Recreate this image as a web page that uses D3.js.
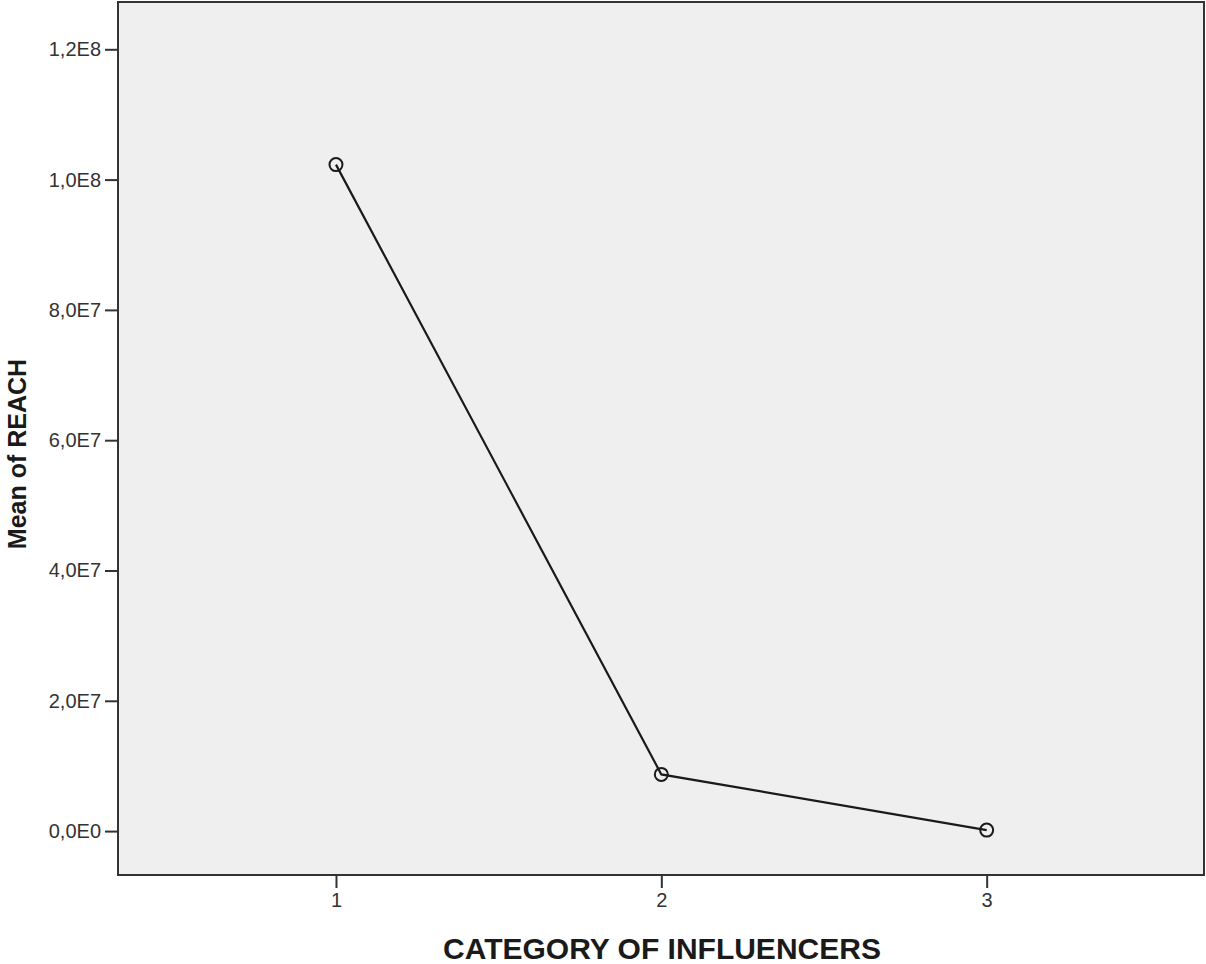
<!DOCTYPE html>
<html><head><meta charset="utf-8">
<script src="https://cdn.jsdelivr.net/npm/d3@7/dist/d3.min.js"></script>
<style>body{margin:0;background:#fff;} svg{display:block;}</style>
</head><body>
<svg id="c" width="1206" height="964"></svg>
<script>
const categories = [1, 2, 3];
const meanReach = [1.023e8, 8.7e6, 1.5e5];
const yTicks = [0, 2e7, 4e7, 6e7, 8e7, 1e8, 1.2e8];
const yTickLabels = ["0,0E0", "2,0E7", "4,0E7", "6,0E7", "8,0E7", "1,0E8", "1,2E8"];
const xTitle = "CATEGORY OF INFLUENCERS";
const yTitle = "Mean of REACH";

const svg = d3.select("#c");
const L = 118, R = 1204, T = 2, B = 875;
const x = d3.scaleLinear().domain([0.33, 3.668]).range([L, R]);
const y = d3.scaleLinear().domain([-6.74e6, 1.2726e8]).range([B, T]);
const font = "Liberation Sans, Arial, sans-serif";

svg.append("rect").attr("x", L).attr("y", T).attr("width", R - L).attr("height", B - T)
  .attr("fill", "#efefef").attr("stroke", "#333").attr("stroke-width", 2);

const yAxis = d3.axisLeft(y).tickValues(yTicks).tickFormat((d, i) => yTickLabels[i]).tickSize(13).tickPadding(4);
const gy = svg.append("g").attr("transform", `translate(${L},0)`).call(yAxis);
gy.select(".domain").remove();
gy.selectAll("line").attr("stroke", "#333").attr("stroke-width", 2);
gy.selectAll("text").attr("font-family", font).attr("font-size", 20).attr("fill", "#333");

const xAxis = d3.axisBottom(x).tickValues(categories).tickFormat(d3.format("d")).tickSize(13).tickPadding(5);
const gx = svg.append("g").attr("transform", `translate(0,${B})`).call(xAxis);
gx.select(".domain").remove();
gx.selectAll("line").attr("stroke", "#333").attr("stroke-width", 2);
gx.selectAll("text").attr("font-family", font).attr("font-size", 20).attr("fill", "#333");

const data = categories.map((c, i) => ({c, v: meanReach[i]}));
svg.append("path").datum(data)
  .attr("d", d3.line().x(d => x(d.c)).y(d => y(d.v)))
  .attr("fill", "none").attr("stroke", "#1a1a1a").attr("stroke-width", 2.2);
svg.selectAll("circle.pt").data(data).enter().append("circle")
  .attr("cx", d => x(d.c)).attr("cy", d => y(d.v)).attr("r", 6.5)
  .attr("fill", "none").attr("stroke", "#1a1a1a").attr("stroke-width", 2);

svg.append("text").attr("x", 662).attr("y", 959).attr("text-anchor", "middle")
  .attr("font-family", font).attr("font-weight", "bold").attr("font-size", 30)
  .attr("fill", "#1a1a1a").text(xTitle);
svg.append("text").attr("transform", `translate(26,454) rotate(-90)`).attr("text-anchor", "middle")
  .attr("font-family", font).attr("font-weight", "bold").attr("font-size", 25)
  .attr("fill", "#1a1a1a").text(yTitle);
</script>
</body></html>
